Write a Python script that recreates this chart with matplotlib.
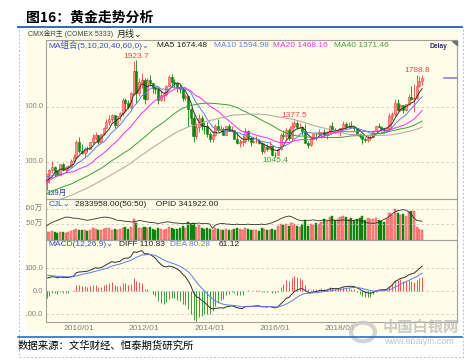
import numpy as np
import pandas as pd
import matplotlib
matplotlib.use('Agg')
import matplotlib.pyplot as plt
from matplotlib.patches import Rectangle, Circle
from matplotlib.transforms import Bbox, TransformedBbox, blended_transform_factory, offset_copy

plt.rcParams['font.family'] = ['Liberation Sans', 'DejaVu Sans', 'Noto Sans CJK SC']

W, H = 472, 363

# monthly closes Jan 2004 - Nov 2008, only used to warm up the MA / MACD lines
warmup_close = [
    400, 396, 427, 388, 394, 396, 391, 409, 416, 429, 453, 438,
    422, 434, 429, 435, 417, 437, 429, 433, 473, 470, 495, 518,
    569, 564, 583, 655, 643, 613, 633, 624, 599, 607, 648, 636,
    651, 668, 663, 680, 660, 650, 666, 673, 743, 795, 783, 838,
    923, 975, 917, 865, 885, 927, 913, 833, 884, 718, 816,
]

# COMEX gold, monthly bars Dec 2008 - Jun 2020
opens = [
    816,
    884, 928, 952, 916, 883, 979, 927, 955, 955, 1008, 1040, 1182,
    1096, 1082, 1118, 1113, 1180, 1212, 1244, 1181, 1248, 1307, 1357, 1386,
    1421, 1333, 1411, 1439, 1556, 1536, 1500, 1628, 1825, 1620, 1725, 1746,
    1566, 1740, 1711, 1669, 1664, 1561, 1604, 1614, 1692, 1773, 1720, 1713,
    1676, 1663, 1578, 1596, 1476, 1393, 1234, 1313, 1396, 1327, 1323, 1250,
    1202, 1240, 1322, 1284, 1296, 1246, 1322, 1282, 1287, 1210, 1171, 1175,
    1184, 1278, 1213, 1183, 1184, 1190, 1172, 1095, 1135, 1115, 1142, 1065,
    1061, 1116, 1238, 1234, 1291, 1215, 1322, 1351, 1312, 1317, 1276, 1173,
    1152, 1212, 1254, 1249, 1268, 1268, 1242, 1270, 1321, 1284, 1271, 1275,
    1309, 1345, 1318, 1327, 1316, 1305, 1253, 1233, 1206, 1196, 1215, 1226,
    1282, 1325, 1316, 1298, 1286, 1306, 1413, 1437, 1529, 1472, 1514, 1472,
    1523, 1589, 1566, 1577, 1687, 1730,
]
highs = [
    889,
    935, 1007, 962, 927, 982, 990, 961, 969, 1025, 1070, 1196, 1227,
    1163, 1130, 1143, 1183, 1249, 1266, 1245, 1254, 1315, 1388, 1424, 1432,
    1425, 1415, 1448, 1577, 1578, 1561, 1633, 1912, 1923.7, 1764, 1804, 1764,
    1764, 1792, 1718, 1677, 1669, 1642, 1632, 1696, 1791, 1796, 1755, 1723,
    1697, 1679, 1617, 1604, 1488, 1424, 1348, 1434, 1424, 1362, 1361, 1267,
    1280, 1346, 1392, 1331, 1315, 1326, 1346, 1325, 1288, 1256, 1208, 1240,
    1307, 1285, 1224, 1225, 1232, 1205, 1175, 1170, 1157, 1191, 1146, 1088,
    1128, 1263, 1287, 1305, 1306, 1362, 1377.5, 1375, 1352, 1318, 1338, 1191,
    1221, 1264, 1261, 1297, 1271, 1297, 1275, 1331, 1362, 1310, 1299, 1310,
    1366, 1365, 1356, 1369, 1326, 1309, 1265, 1237, 1221, 1243, 1240, 1286,
    1326, 1349, 1325, 1310, 1310, 1443, 1453, 1566, 1566, 1524, 1516, 1525,
    1611, 1691, 1704, 1788.8, 1775, 1786,
]
lows = [
    745,
    802, 896, 865, 866, 870, 911, 904, 930, 950, 1001, 1033, 1076,
    1073, 1044, 1088, 1112, 1164, 1199, 1157, 1176, 1241, 1305, 1330, 1357,
    1309, 1325, 1381, 1417, 1462, 1478, 1478, 1604, 1532, 1601, 1670, 1523,
    1562, 1686, 1628, 1612, 1527, 1547, 1555, 1593, 1686, 1698, 1673, 1635,
    1626, 1555, 1563, 1321, 1338, 1180, 1208, 1272, 1292, 1251, 1228, 1180,
    1182, 1237, 1277, 1268, 1240, 1240, 1281, 1272, 1204, 1160, 1131, 1142,
    1167, 1191, 1142, 1170, 1169, 1162, 1072, 1077, 1098, 1106, 1052, 1045.4,
    1061, 1110, 1208, 1206, 1199, 1200, 1310, 1301, 1305, 1241, 1171, 1124,
    1146, 1200, 1195, 1245, 1214, 1237, 1204, 1266, 1280, 1260, 1264, 1236,
    1302, 1307, 1303, 1311, 1281, 1245, 1211, 1160, 1180, 1182, 1196, 1221,
    1276, 1311, 1281, 1266, 1267, 1282, 1382, 1412, 1465, 1460, 1446, 1459,
    1517, 1562, 1451, 1568, 1681, 1694,
]
closes = [
    884,
    928, 952, 916, 883, 979, 927, 955, 955, 1008, 1040, 1182, 1096,
    1082, 1118, 1113, 1180, 1212, 1244, 1181, 1248, 1307, 1357, 1386, 1421,
    1333, 1411, 1439, 1556, 1536, 1500, 1628, 1825, 1620, 1725, 1746, 1566,
    1740, 1711, 1669, 1664, 1561, 1604, 1614, 1692, 1773, 1720, 1713, 1676,
    1663, 1578, 1596, 1476, 1393, 1234, 1313, 1396, 1327, 1323, 1250, 1202,
    1240, 1322, 1284, 1296, 1246, 1322, 1282, 1287, 1210, 1171, 1175, 1184,
    1278, 1213, 1183, 1184, 1190, 1172, 1095, 1135, 1115, 1142, 1065, 1061,
    1116, 1238, 1234, 1291, 1215, 1322, 1351, 1312, 1317, 1276, 1173, 1152,
    1212, 1254, 1249, 1268, 1268, 1242, 1270, 1321, 1284, 1271, 1275, 1309,
    1345, 1318, 1327, 1316, 1305, 1253, 1233, 1206, 1196, 1215, 1226, 1282,
    1325, 1316, 1298, 1286, 1306, 1413, 1437, 1529, 1472, 1514, 1472, 1523,
    1589, 1566, 1577, 1687, 1730, 1761,
]
# volume (万手)
volume = [
    70,
    75, 80, 70, 65, 75, 70, 68, 70, 85, 90, 100, 95,
    90, 95, 85, 95, 110, 100, 95, 90, 100, 110, 115, 95,
    105, 95, 100, 115, 125, 105, 120, 200, 160, 110, 115, 125,
    115, 120, 100, 95, 115, 105, 95, 105, 125, 115, 105, 100,
    115, 130, 110, 175, 150, 160, 120, 140, 115, 105, 115, 105,
    95, 110, 105, 90, 95, 100, 90, 95, 100, 110, 100, 95,
    115, 100, 95, 90, 95, 85, 110, 105, 90, 95, 100, 90,
    130, 150, 140, 155, 130, 165, 150, 130, 125, 150, 190, 130,
    150, 140, 160, 150, 170, 200, 180, 220, 230, 190, 200, 220,
    230, 220, 200, 210, 190, 200, 210, 230, 190, 210, 200, 200,
    210, 190, 180, 170, 200, 260, 240, 300, 260, 240, 250, 230,
    270, 280, 283, 120, 100, 95,
]
# open interest (万手)
open_interest = [
    26,
    29, 32, 34, 36, 38, 40, 42, 42, 41, 40, 40, 39,
    38, 37, 36, 37, 38, 39, 40, 41, 42, 42, 41, 40,
    38, 36, 36, 35, 34, 34, 33, 33, 34, 36, 35, 34,
    33, 32, 32, 31, 30, 31, 32, 33, 33, 32, 31, 31,
    30, 30, 30, 31, 30, 30, 30, 31, 30, 30, 30, 29,
    21, 27, 29, 30, 30, 29, 29, 28, 28, 29, 28, 28,
    28, 29, 28, 28, 28, 28, 29, 28, 29, 30, 32, 34,
    36, 39, 41, 43, 44, 43, 40, 38, 36, 35, 36, 36,
    36, 37, 36, 35, 36, 37, 36, 36, 37, 36, 35, 36,
    37, 36, 36, 35, 36, 37, 36, 35, 32, 31, 31, 30,
    31, 33, 35, 38, 40, 44, 48, 52, 54, 55, 56, 55,
    52, 48, 40, 36, 35, 34.2,
]
year_ticks = [13, 37, 61, 85, 109]
year_labels = ['2010/01', '2012/01', '2014/01', '2016/01', '2018/01']
ma_periods = [5, 10, 20, 40, 60]
ma_colors = ['#303030', '#5A7FE8', '#F030F0', '#3E9E3E', '#A8A8A0']

n = len(closes)
x = np.arange(n)
allc = pd.Series(warmup_close + closes, dtype=float)
ma = {p: allc.rolling(p, min_periods=1).mean().values[-n:] for p in ma_periods}
ema12 = allc.ewm(span=12, adjust=False).mean()
ema26 = allc.ewm(span=26, adjust=False).mean()
diff_all = ema12 - ema26
dea_all = diff_all.ewm(span=9, adjust=False).mean()
diff = diff_all.values[-n:]
dea = dea_all.values[-n:]
hist = 2 * (diff - dea)

up = np.array(closes) >= np.array(opens)
UP_FILL, UP_EDGE = '#FF8C8C', '#F03C3C'
DN_COL = '#0B850B'
BG = '#FFFDE8'
FRAME = '#A0A0A0'
LBL = '#808080'
FS = 6


def fbox(x0, y0, x1, y1):
    return [x0 / W, 1 - y1 / H, (x1 - x0) / W, (y1 - y0) / H]


def ftext(px, py, s, **kw):
    kw.setdefault('fontsize', FS)
    kw.setdefault('va', 'center')
    return fig.text(px / W, 1 - py / H, s, **kw)


fig = plt.figure(figsize=(W / 100, H / 100), dpi=100)
fig.patch.set_facecolor('white')

# page decorations
ftext(26, 17, '图16：黄金走势分析', family=['Noto Sans CJK SC'], fontsize=10, fontweight='bold')
fig.add_artist(plt.Line2D([18 / W, 462 / W], [1 - 26.5 / H] * 2, color='#2E6DB8', lw=1.4))
fig.add_artist(Rectangle((26 / W, 1 - 333 / H), 433 / W, 305 / H,
                         transform=fig.transFigure, facecolor=BG, edgecolor='none', zorder=0))
fig.add_artist(Rectangle((19 / W, 1 - 357 / H), 444 / W, 330 / H, transform=fig.transFigure,
                         facecolor='none', edgecolor='#BDBDBD', lw=0.7, ls=(0, (2, 2))))
fig.add_artist(plt.Line2D([18 / W, 462 / W], [1 - 336.5 / H] * 2, color='#2E6DB8', lw=1.2))
ftext(18, 346, '数据来源：文华财经、恒泰期货研究所', family=['Noto Sans CJK SC'], fontsize=7.5)

clip_bb = TransformedBbox(Bbox.from_extents(26 / W, 0, 1, 1), fig.transFigure)

ax = fig.add_axes(fbox(45.7, 40, 457, 198.5))
axv = fig.add_axes(fbox(45.7, 198.5, 457, 239.5))
axm = fig.add_axes(fbox(45.7, 239.5, 457, 322))
for a in (ax, axv, axm):
    a.set_facecolor('none')
    a.set_xlim(-0.3, 150.8)
    a.set_xticks([])
    a.set_yticks([])
    for s in a.spines.values():
        s.set_color(FRAME)
        s.set_linewidth(0.8)


def ylabels(a, vals, texts):
    tr = offset_copy(blended_transform_factory(a.transAxes, a.transData), fig=fig, x=-2.5, units='dots')
    for v, t in zip(vals, texts):
        txt = a.text(0, v, t, transform=tr, ha='right', va='center', fontsize=5.5, color=LBL)
        txt.set_clip_box(clip_bb)
        txt.set_clip_on(True)


# price panel
ax.set_ylim(665, 2106)
for v in (1500, 1000):
    ax.axhline(v, color='#C8C8C8', lw=0.6, ls=(0, (3, 3)))
ylabels(ax, [1500, 1000], ['1500.0', '1000.0'])
ax.vlines(x[up], np.array(lows)[up], np.array(highs)[up], color=UP_EDGE, lw=0.6, zorder=2)
ax.vlines(x[~up], np.array(lows)[~up], np.array(highs)[~up], color=DN_COL, lw=0.6, zorder=2)
body = np.maximum(np.abs(np.array(closes) - np.array(opens)), 3)
bottom = np.minimum(closes, opens)
ax.bar(x[up], body[up], bottom=bottom[up], width=0.75, color=UP_FILL, edgecolor=UP_EDGE, lw=0.4, zorder=3)
ax.bar(x[~up], body[~up], bottom=bottom[~up], width=0.75, color=DN_COL, edgecolor=DN_COL, lw=0.4, zorder=3)
for p, c in zip(ma_periods, ma_colors):
    ax.plot(x, ma[p], color=c, lw=0.7, zorder=4)

# marked extremes
i_hi = int(np.argmax(highs[:60]))
i_lo = int(np.argmin(lows[60:])) + 60
i_mid = int(np.argmax(highs[85:100])) + 85
i_last = int(np.argmax(highs[120:])) + 120
for i, val, col, dy in [(i_hi, highs[i_hi], '#F04848', 0.3), (i_mid, highs[i_mid], '#F04848', 0.8),
                        (i_last, highs[i_last], '#F04848', 0.8), (i_lo, lows[i_lo], '#3E9E3E', -0.3)]:
    ax.annotate(f'{val:.1f}', (i, val), xytext=(0, dy), textcoords='offset points',
                ha='center', va='bottom' if dy > 0 else 'top', fontsize=FS, color=col, zorder=6)

ftext(48.5, 45.5, 'MA组合(5,10,20,40,60,0)⌄', color='#2E4FC0')
ftext(157, 45.5, 'MA5 1674.48', color='#202020')
ftext(214, 45.5, 'MA10 1594.98', color=ma_colors[1])
ftext(273, 45.5, 'MA20 1468.16', color=ma_colors[2])
ftext(334, 45.5, 'MA40 1371.46', color=ma_colors[3])
ftext(430, 46, 'Delay', fontsize=4.8, color='#2A2A80', fontweight='bold')
ftext(28, 34, 'CMX金R主 (COMEX 5333)', fontsize=5, color='#404040')
ftext(117, 34, '月线⌄', fontsize=6.5, color='#202020')
ax.text(0.002, 0.03, '139月', transform=ax.transAxes, fontsize=5.5, color='#2040A0', va='center')
fig.add_artist(plt.Line2D([444 / W, 457 / W], [1 - 78 / H] * 2, color='#8888CC', lw=1.2))
fig.add_artist(plt.Polygon([[452 / W, 1 - 40.5 / H], [457 / W, 1 - 40.5 / H], [457 / W, 1 - 45 / H]],
                           closed=True, transform=fig.transFigure, color='#707070'))

# volume panel
axv.set_ylim(0, 405)
for v in (300, 150):
    axv.axhline(v, color='#C8C8C8', lw=0.6, ls=(0, (3, 3)))
ylabels(axv, [300, 150], ['300万', '150万'])
vol = np.array(volume)
axv.bar(x[up], vol[up], width=0.75, color=UP_FILL, edgecolor=UP_EDGE, lw=0.3)
axv.bar(x[~up], vol[~up], width=0.75, color=DN_COL, edgecolor=DN_COL, lw=0.3)
axo = axv.twinx()
axo.set_ylim(0, 77)
axo.axis('off')
axo.plot(x, open_interest, color='#303030', lw=0.6)
ftext(48.5, 204.5, 'CJL⌄', color='#2E4FC0')
ftext(75, 204.5, '2833958.00(50:50)    OPID 341922.00', color='#202020')

# macd panel
axm.set_ylim(-133, 225)
for v in (100, 0, -100):
    axm.axhline(v, color='#C8C8C8', lw=0.6, ls=(0, (3, 3)))
ylabels(axm, [100, 0, -100], ['100.0', '0.0', '-100.0'])
pos = hist >= 0
axm.vlines(x[pos], 0, hist[pos], color='#F05050', lw=0.7)
axm.vlines(x[~pos], 0, hist[~pos], color='#3C9C3C', lw=0.7)
axm.plot(x, diff, color='#303030', lw=0.7)
axm.plot(x, dea, color='#5A7FE8', lw=0.7)
ftext(48.5, 244, 'MACD(12,26,9)⌄', color='#2E4FC0')
ftext(119, 244, 'DIFF 110.83', color='#202020')
ftext(170, 244, 'DEA 80.28', color='#5A7FE8')
ftext(219, 244, '61.12', color='#202020')

tr_x = offset_copy(blended_transform_factory(axm.transData, axm.transAxes), fig=fig, x=-3, y=-7, units='dots')
for t, lab in zip(year_ticks, year_labels):
    axm.text(t, 0, lab, transform=tr_x, ha='center', va='center', fontsize=6, color=LBL)

# watermark
fig.add_artist(Circle((363 / W, 1 - 332 / H), 12 / W, transform=fig.transFigure,
                      facecolor='none', edgecolor='#C8C8C8', lw=3, alpha=0.8))
ftext(383, 327, '中国白银网', family=['Noto Sans CJK SC'], fontsize=11,
      fontweight='bold', color='#BEBEBE', alpha=0.8)
ftext(384, 341, 'www.ebaiyin.com', fontsize=6.5, color='#BEBEBE', alpha=0.9)

fig.savefig('out.png', dpi=100)
